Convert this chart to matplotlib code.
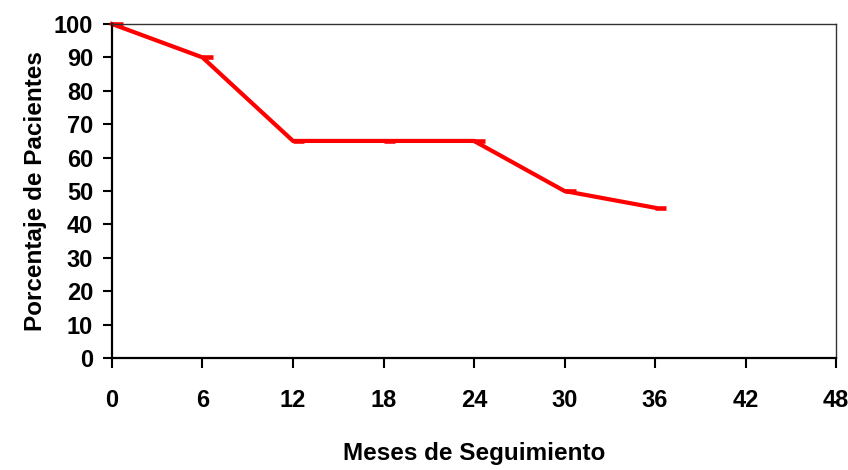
import matplotlib
matplotlib.use('Agg')
import matplotlib.pyplot as plt
from matplotlib.path import Path

# data
meses = [0, 6, 12, 18, 24, 30, 36]
porcentaje = [100, 90, 65, 65, 65, 50, 45]
x_ticks = [0, 6, 12, 18, 24, 30, 36, 42, 48]
y_ticks = [0, 10, 20, 30, 40, 50, 60, 70, 80, 90, 100]

plt.rcParams['font.family'] = ['Liberation Sans', 'DejaVu Sans']
plt.rcParams['font.weight'] = 'bold'

fig = plt.figure(figsize=(8.48, 4.70), dpi=100)
ax = fig.add_axes([0.132, 0.238, 0.854, 0.711])

# dash marker that starts at the point and runs to the right
dash = Path([(0, 0), (1, 0)], [Path.MOVETO, Path.LINETO])
ax.plot(meses, porcentaje, color='#ff0000', lw=3, marker=dash,
        ms=16, mew=3.3, mec='#ff0000', clip_on=False, solid_joinstyle='miter')

ax.set_xlim(0, 48)
ax.set_ylim(0, 100)
ax.set_xticks(x_ticks)
ax.set_yticks(y_ticks)
ax.tick_params(axis='x', direction='out', length=7.5, width=1.5, labelsize=17, pad=15)
ax.tick_params(axis='y', direction='out', length=6.5, width=1.5, labelsize=17, pad=7)
for lab in ax.get_xticklabels() + ax.get_yticklabels():
    lab.set_fontweight('bold')

for s in ['left', 'bottom']:
    ax.spines[s].set_linewidth(1.6)
    ax.spines[s].set_color('black')
for s in ['top', 'right']:
    ax.spines[s].set_linewidth(1.0)
    ax.spines[s].set_color('#333333')

ax.set_xlabel('Meses de Seguimiento', fontsize=17.5, fontweight='bold', labelpad=21)
ax.set_ylabel('Porcentaje de Pacientes', fontsize=17.5, fontweight='bold', labelpad=5)

fig.savefig('out.png', dpi=100)
